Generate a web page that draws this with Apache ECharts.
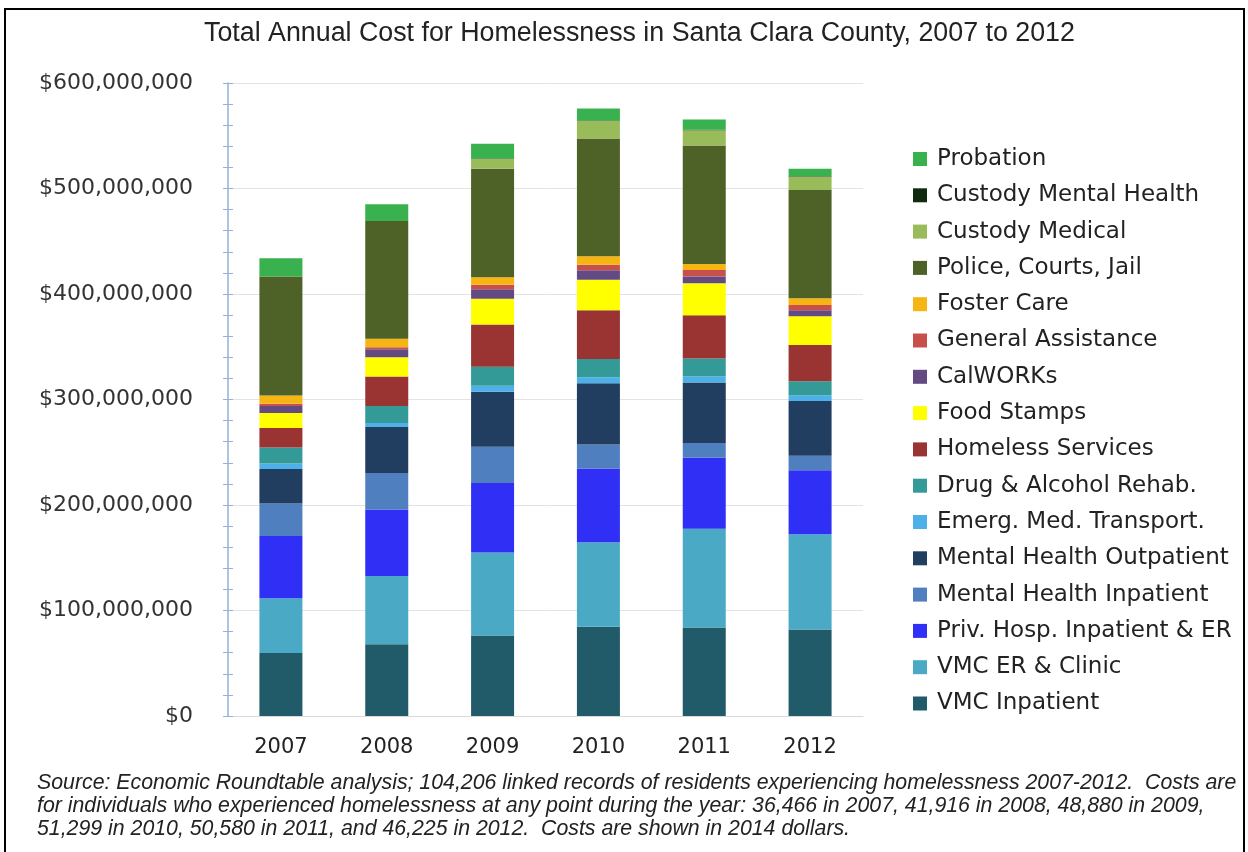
<!DOCTYPE html>
<html>
<head>
<meta charset="utf-8">
<script src="https://cdn.jsdelivr.net/npm/echarts@6/dist/echarts.min.js"></script>
<style>html,body{margin:0;padding:0;background:#fff}#c{width:1248px;height:852px}</style>
</head>
<body>
<div id="c"></div>
<script>
// Values in millions of dollars
var years = ['2007', '2008', '2009', '2010', '2011', '2012'];
var vmcInpatient      = [59.6, 68.1, 76.2, 84.7, 83.9, 82.0];
var vmcErClinic       = [52.0, 64.6, 78.7, 79.9, 93.6, 90.3];
var privHosp          = [59.0, 63.1, 66.0, 69.9, 67.4, 60.7];
var mhInpatient       = [30.9, 34.6, 34.3, 22.9, 13.9, 13.8];
var mhOutpatient      = [32.7, 43.5, 52.2, 58.1, 57.3, 51.7];
var emergMedTransport = [5.1, 3.8, 5.6, 5.6, 6.0, 5.6];
var drugAlcohol       = [15.1, 16.1, 18.0, 17.3, 16.8, 13.1];
var homelessServices  = [18.6, 28.0, 40.1, 46.3, 40.9, 34.5];
var foodStamps        = [14.2, 18.3, 24.5, 28.8, 30.3, 27.3];
var calworks          = [6.6, 7.6, 8.8, 9.1, 6.4, 5.6];
var generalAssistance = [2.2, 1.9, 4.3, 5.2, 6.3, 4.9];
var fosterCare        = [7.9, 7.9, 7.2, 7.9, 5.7, 6.4];
var policeCourtsJail  = [112.8, 111.8, 102.9, 111.8, 112.3, 102.6];
var custodyMedical    = [0, 0, 9.2, 16.4, 14.3, 12.7];
var custodyMental     = [0, 0, 0.4, 0.5, 0.5, 0.4];
var probation         = [17.3, 15.8, 14.1, 11.5, 9.9, 7.1];
var yTicks = [0, 100, 200, 300, 400, 500, 600];

var seriesDefs = [
  ['VMC Inpatient', vmcInpatient, '#215a69'],
  ['VMC ER & Clinic', vmcErClinic, '#4aaac6'],
  ['Priv. Hosp. Inpatient & ER', privHosp, '#2f2ff5'],
  ['Mental Health Inpatient', mhInpatient, '#4f7fbf'],
  ['Mental Health Outpatient', mhOutpatient, '#213d5f'],
  ['Emerg. Med. Transport.', emergMedTransport, '#4db0e8'],
  ['Drug & Alcohol Rehab.', drugAlcohol, '#339a98'],
  ['Homeless Services', homelessServices, '#9a3432'],
  ['Food Stamps', foodStamps, '#ffff00'],
  ['CalWORKs', calworks, '#634a82'],
  ['General Assistance', generalAssistance, '#c8504c'],
  ['Foster Care', fosterCare, '#f7b514'],
  ['Police, Courts, Jail', policeCourtsJail, '#4e6126'],
  ['Custody Medical', custodyMedical, '#9abb5a'],
  ['Custody Mental Health', custodyMental, '#0f2a10'],
  ['Probation', probation, '#38b14e']
];

var series = seriesDefs.map(function (d) {
  return {
    name: d[0], type: 'bar', stack: 'total', data: d[1],
    barWidth: 43, itemStyle: { color: d[2] }, yAxisIndex: 0
  };
});
var legendOrder = seriesDefs.map(function (d) { return d[0]; }).reverse();

var gridLeft = 228, gridRight = 385;
var plotWidth = 1248 - gridLeft - gridRight;

var chart = echarts.init(document.getElementById('c'), null, { renderer: 'canvas' });
chart.setOption({
  animation: false,
  backgroundColor: '#ffffff',
  title: [{
    text: 'Total Annual Cost for Homelessness in Santa Clara County, 2007 to 2012',
    left: 199, top: 15,
    textStyle: { fontFamily: 'Liberation Sans', fontWeight: 'normal', fontSize: 26.8, color: '#222' }
  }, {
    text: 'Source: Economic Roundtable analysis; 104,206 linked records of residents experiencing homelessness 2007-2012.  Costs are\nfor individuals who experienced homelessness at any point during the year: 36,466 in 2007, 41,916 in 2008, 48,880 in 2009,\n51,299 in 2010, 50,580 in 2011, and 46,225 in 2012.  Costs are shown in 2014 dollars.',
    left: 32, top: 767,
    textStyle: { fontFamily: 'Liberation Sans', fontStyle: 'italic', fontWeight: 'normal', fontSize: 21.3, lineHeight: 23, color: '#222' }
  }],
  graphic: [{
    type: 'rect', shape: { x: 5, y: 9, width: 1239, height: 870 },
    style: { fill: 'none', stroke: '#000', lineWidth: 2 }, silent: true
  }],
  legend: {
    orient: 'vertical', left: 908, top: 142.5,
    data: legendOrder,
    itemWidth: 14, itemHeight: 14, itemGap: 13.3,
    icon: 'rect',
    textStyle: { fontFamily: 'DejaVu Sans', fontSize: 23, color: '#222', lineHeight: 22, padding: [0, 0, 0, 5] }
  },
  grid: { left: gridLeft, right: gridRight, top: 83, bottom: 136, containLabel: false },
  xAxis: {
    type: 'category', data: years,
    axisLine: { show: true, lineStyle: { color: '#d9d9d9', width: 1 } },
    axisTick: { show: false },
    axisLabel: { margin: 21, fontFamily: 'DejaVu Sans', fontSize: 21, color: '#222' }
  },
  yAxis: [{
    type: 'value', min: 0, max: 600, interval: 100, position: 'left',
    axisLine: { show: true, lineStyle: { color: '#95b1d6', width: 1.5 } },
    axisTick: { show: true, length: 5, lineStyle: { color: '#95b1d6' } },
    minorTick: { show: true, splitNumber: 5, length: 5, lineStyle: { color: '#95b1d6' } },
    splitLine: { show: true, lineStyle: { color: '#e3e3e3', width: 1 } },
    axisLabel: {
      margin: 35, fontFamily: 'DejaVu Sans', fontSize: 22, color: '#333',
      formatter: function (v) { return '$' + (v * 1000000).toLocaleString('en-US'); }
    }
  }, {
    type: 'value', min: 0, max: 600, interval: 100, position: 'right', offset: -plotWidth,
    axisLine: { show: false },
    axisTick: { show: true, inside: false, length: 5, lineStyle: { color: '#95b1d6' } },
    minorTick: { show: true, splitNumber: 5, length: 5, lineStyle: { color: '#95b1d6' } },
    splitLine: { show: false },
    axisLabel: { show: false }
  }],
  series: series
});
</script>
</body>
</html>
